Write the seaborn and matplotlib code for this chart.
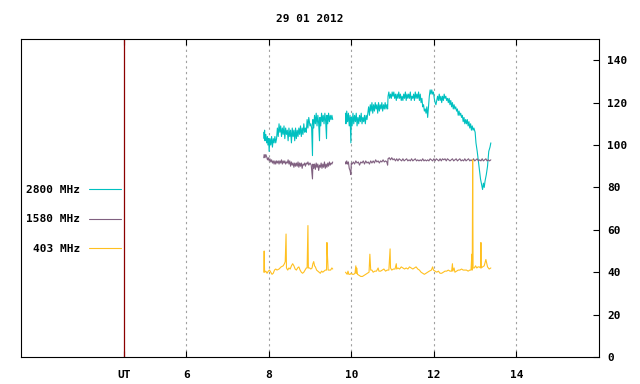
import numpy as np
import pandas as pd
import matplotlib
matplotlib.use('Agg')

import matplotlib.pyplot as plt
import seaborn as sns
from matplotlib.lines import Line2D

# ================= DATA =================

TITLE = '29 01 2012'

LABELS = ['2800 MHz', '1580 MHz', '403 MHz']
COLORS = ['#00c0c0', '#806080', '#ffc020']

X_TICKS = [4.5, 6, 8, 10, 12, 14]
X_TICK_LABELS = ['UT', '6', '8', '10', '12', '14']
Y_TICKS = [0, 20, 40, 60, 80, 100, 120, 140]

# 2800 MHz, before and after the gap
cyan_t1 = [7.88, 7.89, 7.90, 7.91, 7.93, 7.95, 7.97, 7.98, 8.00, 8.01, 8.03, 8.05,
           8.07, 8.09, 8.11, 8.13, 8.15, 8.17, 8.19, 8.21, 8.23, 8.25, 8.27, 8.29,
           8.31, 8.33, 8.35, 8.37, 8.39, 8.41, 8.43, 8.45, 8.47, 8.49, 8.51, 8.53,
           8.55, 8.57, 8.59, 8.61, 8.63, 8.65, 8.67, 8.69, 8.71, 8.73, 8.75, 8.77,
           8.79, 8.81, 8.83, 8.85, 8.87, 8.89, 8.91, 8.93, 8.95, 8.97, 9.00, 9.02,
           9.04, 9.06, 9.07, 9.09, 9.11, 9.13, 9.15, 9.17, 9.19, 9.21, 9.23, 9.24,
           9.26, 9.28, 9.30, 9.32, 9.34, 9.36, 9.38, 9.40, 9.41, 9.43, 9.45, 9.47,
           9.49, 9.51, 9.53, 9.55]
cyan_v1 = [106, 103, 107, 102, 105, 101, 104, 100, 103, 97, 103, 100,
           104, 99, 103, 101, 104, 101, 103, 108, 104, 110, 106, 109,
           104, 108, 105, 109, 103, 108, 105, 107, 102, 108, 104, 107,
           101, 108, 104, 107, 102, 108, 103, 107, 104, 108, 105, 109,
           104, 108, 105, 110, 106, 108, 106, 112, 108, 113, 109, 110,
           108, 95, 112, 108, 114, 110, 115, 109, 114, 110, 102, 113,
           109, 115, 111, 114, 110, 115, 111, 103, 114, 110, 115, 111,
           114, 112, 114, 112]

cyan_t2 = [9.86, 9.87, 9.89, 9.91, 9.93, 9.95, 9.97, 9.99, 10.00, 10.02, 10.04, 10.06,
           10.08, 10.10, 10.12, 10.14, 10.16, 10.18, 10.20, 10.22, 10.24, 10.26, 10.28, 10.30,
           10.32, 10.34, 10.36, 10.38, 10.40, 10.42, 10.44, 10.46, 10.48, 10.50, 10.52, 10.54,
           10.56, 10.58, 10.60, 10.62, 10.64, 10.66, 10.68, 10.70, 10.72, 10.74, 10.76, 10.78,
           10.80, 10.82, 10.84, 10.86, 10.88, 10.89, 10.91, 10.93, 10.95, 10.97, 10.99, 11.01,
           11.03, 11.05, 11.07, 11.09, 11.11, 11.13, 11.15, 11.17, 11.19, 11.21, 11.23, 11.25,
           11.27, 11.29, 11.31, 11.33, 11.35, 11.37, 11.39, 11.41, 11.43, 11.45, 11.47, 11.49,
           11.51, 11.53, 11.55, 11.57, 11.59, 11.61, 11.63, 11.65, 11.67, 11.69, 11.71, 11.73,
           11.75, 11.77, 11.79, 11.81, 11.83, 11.85, 11.87, 11.89, 11.91, 11.93, 11.95, 11.97,
           11.99, 12.01, 12.03, 12.05, 12.07, 12.09, 12.11, 12.13, 12.15, 12.17, 12.19, 12.21,
           12.23, 12.25, 12.27, 12.29, 12.31, 12.33, 12.35, 12.37, 12.39, 12.41, 12.43, 12.45,
           12.47, 12.49, 12.51, 12.53, 12.55, 12.57, 12.59, 12.61, 12.63, 12.65, 12.67, 12.69,
           12.71, 12.73, 12.75, 12.77, 12.79, 12.81, 12.83, 12.85, 12.87, 12.89, 12.91, 12.93,
           12.95, 12.97, 13.00, 13.02, 13.05, 13.08, 13.11, 13.13, 13.16, 13.18, 13.20, 13.22,
           13.24, 13.27, 13.30, 13.33, 13.36, 13.38]
cyan_v2 = [115, 110, 116, 111, 115, 109, 114, 101, 113, 109, 115, 110,
           114, 111, 115, 109, 113, 110, 114, 111, 115, 110, 113, 111,
           114, 110, 114, 112, 115, 118, 114, 119, 116, 120, 115, 119,
           116, 120, 117, 119, 115, 120, 116, 119, 117, 120, 116, 119,
           117, 120, 117, 119, 117, 123, 125, 122, 124, 122, 125, 123,
           125, 122, 124, 121, 124, 122, 125, 122, 124, 121, 123, 121,
           124, 122, 125, 121, 124, 122, 124, 122, 125, 121, 123, 122,
           124, 121, 125, 122, 124, 122, 125, 121, 124, 120, 122, 118,
           119, 116, 117, 115, 118, 113, 118, 123, 126, 124, 126, 124,
           125, 122, 120, 119, 121, 123, 121, 124, 121, 123, 120, 123,
           121, 124, 122, 123, 121, 122, 120, 122, 119, 121, 118, 120,
           117, 119, 117, 118, 116, 117, 114, 116, 114, 115, 113, 114,
           111, 113, 110, 112, 110, 112, 109, 111, 108, 110, 107, 109,
           107, 108, 106, 101, 97, 92, 87, 84, 81, 79, 82, 80,
           83, 86, 90, 97, 99, 101]

# 1580 MHz
purple_t1 = [7.88, 7.89, 7.91, 7.93, 7.95, 7.97, 7.99, 8.01, 8.03, 8.05, 8.07, 8.09,
             8.11, 8.13, 8.15, 8.17, 8.19, 8.21, 8.23, 8.25, 8.27, 8.29, 8.31, 8.33,
             8.35, 8.37, 8.39, 8.41, 8.43, 8.45, 8.47, 8.49, 8.51, 8.53, 8.55, 8.57,
             8.59, 8.61, 8.63, 8.65, 8.67, 8.69, 8.71, 8.73, 8.75, 8.77, 8.79, 8.81,
             8.83, 8.85, 8.87, 8.89, 8.91, 8.93, 8.95, 8.97, 9.00, 9.03, 9.06, 9.07,
             9.09, 9.11, 9.13, 9.15, 9.17, 9.19, 9.21, 9.23, 9.25, 9.27, 9.29, 9.31,
             9.33, 9.35, 9.37, 9.39, 9.41, 9.43, 9.45, 9.47, 9.49, 9.51, 9.53, 9.55]
purple_v1 = [94, 95.5, 94, 95.5, 94.5, 93, 94, 92.5, 93.5, 92, 93, 91.5,
             92.5, 91, 92.5, 91, 92.5, 91.5, 92.5, 91, 92.5, 91.5, 93, 91,
             92.5, 91.5, 92.5, 91, 92, 91.5, 93, 91, 92.5, 90, 92, 90.5,
             91.5, 89.5, 91.5, 90, 91.5, 90, 92, 89.5, 91.5, 90, 91.5, 89,
             91, 90.5, 91.5, 90, 91.5, 91, 92, 90.5, 91.5, 90.5, 84, 91,
             89, 91, 88.5, 91.5, 89.5, 91, 88, 90.5, 89.5, 91.5, 89, 91,
             89.5, 92, 89, 91, 89.5, 91.5, 90, 92, 90.5, 91.5, 91, 92]

purple_t2 = [9.86, 9.87, 9.89, 9.91, 9.93, 9.95, 9.97, 9.99, 10.00, 10.02, 10.05, 10.08,
             10.11, 10.14, 10.17, 10.20, 10.23, 10.26, 10.29, 10.32, 10.35, 10.38, 10.41, 10.44,
             10.47, 10.50, 10.53, 10.56, 10.59, 10.62, 10.65, 10.68, 10.71, 10.74, 10.77, 10.80,
             10.83, 10.86, 10.88, 10.89, 10.92, 10.95, 10.98, 11.01, 11.04, 11.07, 11.10, 11.13,
             11.16, 11.19, 11.22, 11.25, 11.28, 11.31, 11.34, 11.37, 11.40, 11.43, 11.46, 11.49,
             11.52, 11.55, 11.58, 11.61, 11.64, 11.67, 11.70, 11.73, 11.76, 11.79, 11.82, 11.85,
             11.88, 11.91, 11.94, 11.97, 12.00, 12.03, 12.06, 12.09, 12.12, 12.15, 12.18, 12.21,
             12.24, 12.27, 12.30, 12.33, 12.36, 12.39, 12.42, 12.45, 12.48, 12.51, 12.54, 12.57,
             12.60, 12.63, 12.66, 12.69, 12.72, 12.75, 12.78, 12.81, 12.84, 12.87, 12.90, 12.93,
             12.96, 12.99, 13.02, 13.05, 13.08, 13.11, 13.14, 13.17, 13.20, 13.23, 13.26, 13.29,
             13.32, 13.35, 13.38]
purple_v2 = [92, 91, 92.5, 91, 92, 89, 88, 86, 91.5, 91, 92, 91,
             92.5, 91.5, 92, 90.5, 92, 91.5, 92.5, 91, 92.5, 91.5, 92, 91,
             92.5, 91.5, 92.5, 91.5, 93, 92, 92.5, 91.5, 92.5, 92, 93, 92,
             92.5, 92, 90.5, 93.5, 94, 93, 94, 93, 93.5, 92.5, 93.5, 92.5,
             93.5, 93, 92.5, 93.5, 92.5, 93, 93.5, 92.5, 93, 92.5, 93.5, 92.5,
             93, 93.5, 92.5, 93, 92.5, 93, 92.5, 93.5, 92.5, 93, 92.5, 93,
             92.5, 93.5, 93, 92.5, 93.5, 92.5, 93.5, 93, 92.5, 93.5, 92.5, 93.5,
             93, 93.5, 92.5, 93.5, 93, 92.5, 93, 93.5, 92.5, 93, 93.5, 92.5,
             93, 93.5, 92.5, 93, 92.5, 93.5, 92.5, 93, 93.5, 92.5, 93, 92.5,
             93.5, 92.5, 93, 93.5, 92.5, 93, 92.5, 93.5, 92.5, 93, 93.5, 92.5,
             93, 92.5, 93]

# 403 MHz
gold_t1 = [7.88, 7.89, 7.90, 7.93, 7.96, 7.99, 8.02, 8.05, 8.08, 8.11, 8.14, 8.17,
           8.20, 8.25, 8.30, 8.35, 8.38, 8.40, 8.42, 8.43, 8.46, 8.49, 8.52, 8.55,
           8.58, 8.61, 8.64, 8.67, 8.70, 8.73, 8.76, 8.79, 8.82, 8.85, 8.88, 8.91,
           8.93, 8.95, 8.96, 8.99, 9.02, 9.05, 9.07, 9.09, 9.11, 9.13, 9.16, 9.19,
           9.22, 9.25, 9.28, 9.31, 9.34, 9.37, 9.40, 9.41, 9.42, 9.44, 9.47, 9.50,
           9.53, 9.55]
gold_v1 = [40, 50, 40, 40.5, 39.5, 40.5, 41, 40, 39, 39.5, 41, 41.5,
           41, 41.5, 42.5, 43, 44, 45, 58, 42, 41, 42, 41.5, 43,
           44, 43, 41.5, 41, 42, 42.5, 41, 40, 39.5, 40, 41, 42,
           42, 62, 42, 42, 41.5, 42, 44, 45, 43, 42.5, 41, 40.5,
           40, 39.5, 40.5, 40, 40.5, 41, 41, 54, 49, 41, 41, 41,
           42, 41.5]

gold_t2 = [9.86, 9.88, 9.90, 9.92, 9.94, 9.97, 10.00, 10.03, 10.06, 10.09, 10.11, 10.12,
           10.13, 10.15, 10.19, 10.23, 10.27, 10.31, 10.35, 10.39, 10.43, 10.45, 10.47, 10.50,
           10.53, 10.57, 10.61, 10.65, 10.67, 10.71, 10.75, 10.79, 10.83, 10.87, 10.91, 10.94,
           10.95, 10.98, 11.02, 11.06, 11.09, 11.10, 11.13, 11.17, 11.21, 11.25, 11.29, 11.33,
           11.37, 11.41, 11.45, 11.49, 11.53, 11.57, 11.61, 11.65, 11.69, 11.73, 11.77, 11.81,
           11.85, 11.89, 11.94, 11.97, 11.99, 12.03, 12.07, 12.11, 12.15, 12.19, 12.23, 12.27,
           12.31, 12.35, 12.39, 12.43, 12.45, 12.46, 12.49, 12.51, 12.55, 12.59, 12.63, 12.67,
           12.71, 12.75, 12.79, 12.83, 12.87, 12.90, 12.92, 12.93, 12.94, 12.95, 12.98, 13.01,
           13.04, 13.07, 13.10, 13.13, 13.14, 13.15, 13.18, 13.22, 13.26, 13.30, 13.34, 13.38]
gold_v2 = [40, 39.5, 39, 40.5, 39, 39, 39.5, 39, 39, 39.5, 43, 39.5,
           42, 39, 38.5, 38, 38, 38.5, 39, 39.5, 40, 48.5, 41, 41,
           40, 40.5, 40.5, 42, 40.5, 40.5, 41, 41.5, 40.5, 41, 41, 51,
           42, 41, 41.5, 41.5, 44, 41.5, 42, 41.5, 42.5, 42, 41.5, 42,
           41.5, 42.5, 42, 41.5, 42, 42.5, 41.5, 41, 40, 39.5, 39, 39.5,
           40, 40.5, 41, 42.5, 41, 40.5, 40, 40.5, 39.5, 39.5, 40, 40.5,
           40.5, 41, 40.5, 40.5, 44, 40.5, 42, 40, 40.5, 41, 41, 41.5,
           41, 41, 41, 40.5, 41, 41, 48.5, 41, 93, 42, 42, 43,
           42, 42.5, 42.5, 42, 54, 42, 42.5, 43, 46, 42.5, 41.5, 42]

# ================= FRAME =================

rows = []
series = [
    (LABELS[0], [(cyan_t1, cyan_v1), (cyan_t2, cyan_v2)]),
    (LABELS[1], [(purple_t1, purple_v1), (purple_t2, purple_v2)]),
    (LABELS[2], [(gold_t1, gold_v1), (gold_t2, gold_v2)]),
]
for name, segs in series:
    for k, (ts, vs) in enumerate(segs):
        for t, v in zip(ts, vs):
            rows.append({'band': name, 'seg': k, 't': t, 'v': v})
df = pd.DataFrame(rows)

# ================= PLOT =================

sns.set_theme(style='white')
plt.rcParams['font.family'] = ['DejaVu Sans Mono', 'DejaVu Sans']
plt.rcParams['font.weight'] = 'bold'
plt.rcParams['font.size'] = 8
plt.rcParams['xtick.labelsize'] = 8
plt.rcParams['ytick.labelsize'] = 8
plt.rcParams['text.color'] = 'black'

fig = plt.figure(figsize=(6.4, 3.84), dpi=100)
ax = fig.add_axes([21 / 640, 27 / 384, 578 / 640, 318 / 384])

for name, color in zip(LABELS, COLORS):
    sns.lineplot(
        data=df[df['band'] == name],
        x='t',
        y='v',
        units='seg',
        estimator=None,
        sort=False,
        color=color,
        lw=0.8,
        ax=ax,
        legend=False
    )

ax.set_xlim(2, 16)
ax.set_ylim(0, 150)
ax.set_xlabel('')
ax.set_ylabel('')

ax.set_xticks(X_TICKS)
ax.set_xticklabels(X_TICK_LABELS)
ax.set_yticks(Y_TICKS)

ax.yaxis.tick_right()
ax.tick_params(axis='y', direction='in', length=4, width=0.8,
               left=False, right=True, labelleft=False, labelright=True,
               pad=6, colors='black', labelsize=8)
ax.tick_params(axis='x', direction='in', length=4, width=0.8,
               top=True, bottom=True, pad=9, colors='black', labelsize=8)

for s in ax.spines.values():
    s.set_color('black')
    s.set_linewidth(0.8)

ax.grid(False)
for x in X_TICKS[1:]:
    ax.axvline(x, color='#a0a0a0', lw=0.8, ls=(0, (2, 3)), zorder=0)
ax.axvline(X_TICKS[0], color='#8b0000', lw=0.9, zorder=1)

ax.set_title(TITLE, pad=12, fontsize=8, fontweight='bold', color='black')

handles = [Line2D([0], [0], color=c, lw=0.8) for c in COLORS]
fig.legend(
    handles,
    LABELS,
    loc='upper right',
    bbox_to_anchor=(121 / 640, 1 - 185 / 384),
    bbox_transform=fig.transFigure,
    frameon=False,
    markerfirst=False,
    handlelength=2.9,
    handletextpad=0.75,
    labelspacing=1.75,
    borderpad=0,
    borderaxespad=0,
    labelcolor='black',
    prop={'family': 'DejaVu Sans Mono', 'weight': 'bold', 'size': 8}
)

fig.savefig('out.png', dpi=100)
plt.close(fig)
